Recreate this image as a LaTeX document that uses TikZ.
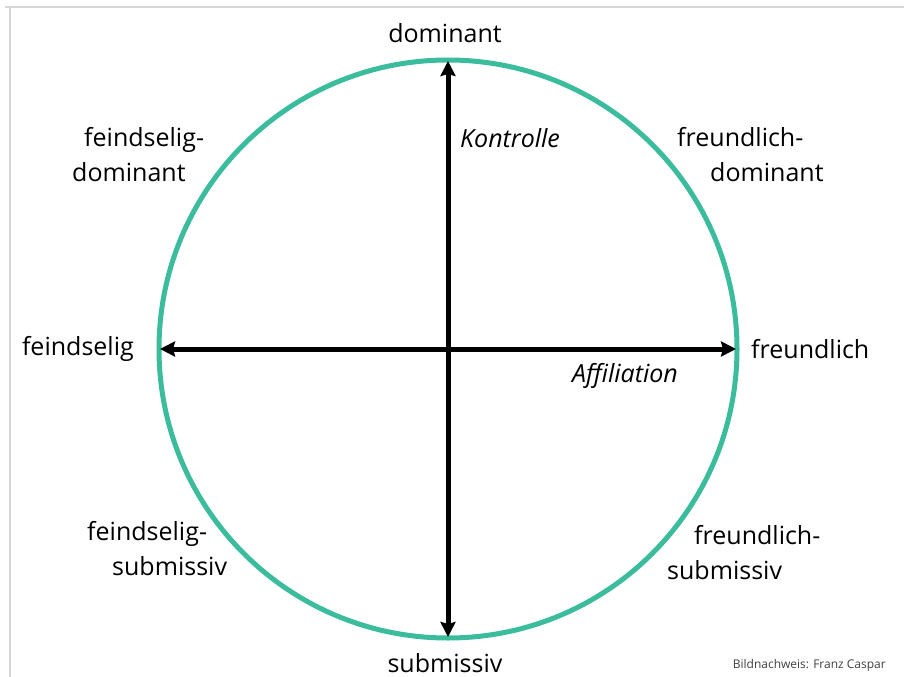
\documentclass[tikz,border=0pt]{standalone}
\usepackage{fontspec}
\setmainfont{Open Sans}
\usetikzlibrary{arrows.meta}
\definecolor{kreis}{RGB}{59,188,157}
\definecolor{rahmen}{RGB}{214,214,214}
\tikzset{
	lbl/.style={font=\fontsize{25bp}{35bp}\selectfont, align=center, inner sep=0pt},
	zweizeilig/.style={lbl, align=left, anchor=west},
	achse/.style={line width=5bp, {Stealth[length=15bp,width=15bp,inset=2bp]}-{Stealth[length=15bp,width=15bp,inset=2bp]}},
}
\begin{document}
\begin{tikzpicture}[x=1bp, y=-1bp]
		\useasboundingbox (0,0) rectangle (904,677);
		\draw[rahmen, line width=2bp] (5,7.5) -- (904,7.5);
		\draw[rahmen, line width=2bp] (9.5,7.5) -- (9.5,677);
		
		\coordinate (c) at (448,349);
		\coordinate (oben) at (448,61);
		\coordinate (unten) at (448,637);
		\coordinate (links) at (160,349);
		\coordinate (rechts) at (736,349);
		\draw[kreis, line width=5bp] (c) circle (289);
		\draw[achse] (unten) -- (oben);
		\draw[achse] (links) -- (rechts);
		
		\node[lbl] (dom) at (445,33) {dominant};
		\node[lbl] (sub) at (445,663) {submissiv};
		\node[lbl, anchor=east] (fei) at (134,349) {feindselig};
		\node[lbl, anchor=west] (fre) at (751,349) {freundlich};
		\node[lbl, font=\fontsize{25bp}{35bp}\selectfont\itshape, anchor=west] (kon) at (460,138) {Kontrolle};
		\node[lbl, font=\fontsize{25bp}{35bp}\selectfont\itshape, anchor=east] (aff) at (678,376) {Affiliation};
		
		\node[zweizeilig] (feidom) at (72,155) {\hspace*{12bp}feindselig-\\dominant};
		\node[zweizeilig] (fredom) at (677,155) {freundlich-\\\hspace*{33bp}dominant};
		\node[zweizeilig] (feisub) at (87,549) {feindselig-\\\hspace*{25bp}submissiv};
		\node[zweizeilig] (fresub) at (667,553) {\hspace*{27bp}freundlich-\\submissiv};
		
		\node[font=\fontsize{12bp}{14bp}\selectfont, inner sep=0pt, anchor=east, black!75] (quelle) at (886,665) {Bildnachweis: Franz Caspar};
	\end{tikzpicture}
\end{document}
